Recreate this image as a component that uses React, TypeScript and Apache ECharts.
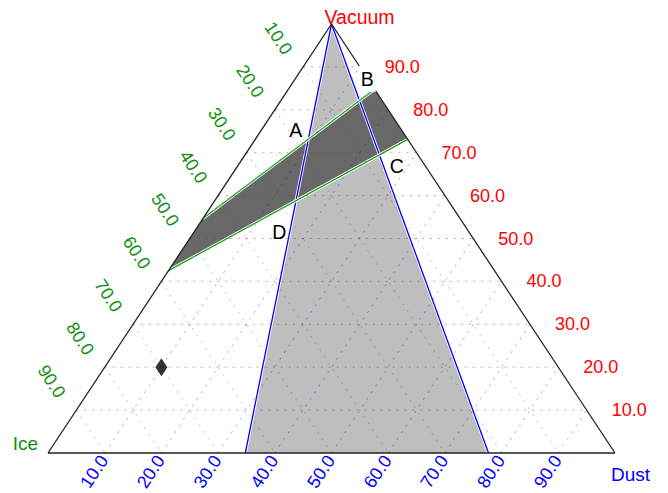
import React, { useEffect, useRef } from "react";
import * as echarts from "echarts";

// Compositions are written as [Ice, Dust, Vacuum] in percent.
const gridTicks = [10, 20, 30, 40, 50, 60, 70, 80, 90];
const tickLabels = gridTicks.map((t) => t.toFixed(1));

const iceTitle = "Ice";
const dustTitle = "Dust";
const vacuumTitle = "Vacuum";

// Dust / (Ice + Dust) in percent for the two rays bounding the light wedge
const dustRatioMin = 34.8;
const dustRatioMax = 77.7;

// Green boundaries of the dark band: Ice–Vacuum side -> Dust–Vacuum side
const bandUpperLine = [
  [45.3, 0, 54.7],
  [0, 15.2, 84.8],
];
const bandLowerLine = [
  [57.5, 0, 42.5],
  [0, 26.9, 73.1],
];

const samplePoint = [70, 10, 20];

const cornerNames = ["A", "B", "C", "D"];
const cornerPositions = [
  [18.7, 6.1, 75.2],
  [0.1, 12.7, 87.2],
  [5.1, 28.1, 66.8],
  [33.4, 15.0, 51.6],
];

const FONT = '"Liberation Sans", Arial, Helvetica, sans-serif';
const RED = "#ff0000";
const GREEN = "#0f8f0f";
const BLUE = "#0000ff";

// ternary -> cartesian (Ice at left, Dust at right, Vacuum on top)
const tern = (c: number[]) => [(c[1] + c[2] / 2) / 100, c[2] / 100];

const APEX = [0, 0, 100];
const ICE_V = [100, 0, 0];
const DUST_V = [0, 100, 0];

type Seg = number[][];

const segmentSeries = (name: string, segs: Seg[], style: any, z: number) => ({
  type: "custom",
  name,
  coordinateSystem: "cartesian2d",
  silent: true,
  z,
  data: segs.map(([a, b]) => [...tern(a), ...tern(b)]),
  encode: { x: [0, 2], y: [1, 3] },
  renderItem: (_p: any, api: any) => {
    const p1 = api.coord([api.value(0), api.value(1)]);
    const p2 = api.coord([api.value(2), api.value(3)]);
    return {
      type: "line",
      shape: { x1: p1[0], y1: p1[1], x2: p2[0], y2: p2[1] },
      style: { fill: null, ...style },
    };
  },
});

const polygonSeries = (name: string, pts: number[][], style: any, z: number) => ({
  type: "custom",
  name,
  coordinateSystem: "cartesian2d",
  silent: true,
  z,
  data: pts.map((p) => tern(p)),
  renderItem: (params: any, api: any) => {
    if (params.dataIndex !== 0) return { type: "group", children: [] };
    const points = pts.map((p) => api.coord(tern(p)));
    return { type: "polygon", shape: { points }, style };
  },
});

type LabelSpec = {
  at: number[];
  text: string;
  dx: number;
  dy: number;
  tilt: "none" | "up" | "down";
  align: string;
  color: string;
  size: number;
  boxed?: boolean;
};

const textSeries = (name: string, specs: LabelSpec[], z: number) => ({
  type: "custom",
  name,
  coordinateSystem: "cartesian2d",
  silent: true,
  z,
  data: specs.map((s) => tern(s.at)),
  renderItem: (params: any, api: any) => {
    const s = specs[params.dataIndex];
    const p = api.coord([api.value(0), api.value(1)]);
    const top = api.coord(tern(APEX));
    const left = api.coord(tern(ICE_V));
    const slope = Math.atan2(left[1] - top[1], top[0] - left[0]);
    const rotation = s.tilt === "up" ? slope : s.tilt === "down" ? -slope : 0;
    const style: any = {
      text: s.text,
      fill: s.color,
      font: `${s.size}px ${FONT}`,
      align: s.align,
      verticalAlign: "middle",
    };
    if (s.boxed) {
      style.backgroundColor = "#ffffff";
      style.padding = [3, 2];
    }
    return { type: "text", x: p[0] + s.dx, y: p[1] + s.dy, rotation, style };
  },
});

function buildOption() {
  const wedge = [APEX, [100 - dustRatioMin, dustRatioMin, 0], [100 - dustRatioMax, dustRatioMax, 0]];
  const band = [bandUpperLine[0], bandUpperLine[1], bandLowerLine[1], bandLowerLine[0]];
  const rays: Seg[] = [
    [APEX, wedge[1]],
    [APEX, wedge[2]],
  ];
  const bandEdges: Seg[] = [bandUpperLine, bandLowerLine];

  const vacGrid: Seg[] = gridTicks.map((v) => [[100 - v, 0, v], [0, 100 - v, v]]);
  const iceGrid: Seg[] = gridTicks.map((i) => [[i, 0, 100 - i], [i, 100 - i, 0]]);
  const dustGrid: Seg[] = gridTicks.map((d) => [[100 - d, d, 0], [0, d, 100 - d]]);

  const edges: Seg[] = [
    [ICE_V, DUST_V],
    [DUST_V, APEX],
    [APEX, ICE_V],
  ];

  const dotted = (color: string) => ({ stroke: color, lineWidth: 1, lineDash: [2, 6] });

  const labels: LabelSpec[] = [];
  gridTicks.forEach((v, k) =>
    labels.push({ at: [0, 100 - v, v], text: tickLabels[k], dx: 25, dy: 0, tilt: "none", align: "left", color: RED, size: 18 })
  );
  gridTicks.forEach((i, k) =>
    labels.push({ at: [i, 0, 100 - i], text: tickLabels[k], dx: -15, dy: -14, tilt: "down", align: "right", color: GREEN, size: 18 })
  );
  gridTicks.forEach((d, k) =>
    labels.push({ at: [100 - d, d, 0], text: tickLabels[k], dx: -0.8, dy: 4, tilt: "up", align: "right", color: BLUE, size: 18 })
  );
  labels.push({ at: APEX, text: vacuumTitle, dx: -7, dy: -7, tilt: "none", align: "left", color: RED, size: 19.5 });
  labels.push({ at: ICE_V, text: iceTitle, dx: -10, dy: -10, tilt: "none", align: "right", color: GREEN, size: 19 });
  labels.push({ at: DUST_V, text: dustTitle, dx: -4, dy: 21, tilt: "none", align: "left", color: BLUE, size: 19 });

  const corners: LabelSpec[] = cornerNames.map((n, k) => ({
    at: cornerPositions[k],
    text: n,
    dx: 0,
    dy: 0,
    tilt: "none",
    align: "center",
    color: "#000000",
    size: 19.5,
    boxed: n === "B",
  }));

  return {
    animation: false,
    backgroundColor: "#ffffff",
    grid: { left: 48, right: 53, top: 24, bottom: 40 },
    xAxis: { type: "value", min: 0, max: 1, show: false },
    yAxis: { type: "value", min: 0, max: 1, show: false },
    series: [
      polygonSeries("wedge", wedge, { fill: "#bebebe" }, 1),
      polygonSeries("band", band, { fill: "#686868" }, 2),
      segmentSeries("rayHalo", rays, { stroke: "#ffffff", lineWidth: 3 }, 3),
      segmentSeries("rays", rays, { stroke: BLUE, lineWidth: 1.3 }, 4),
      segmentSeries("bandHalo", bandEdges, { stroke: "#ffffff", lineWidth: 3 }, 5),
      segmentSeries("bandEdges", bandEdges, { stroke: "#22a022", lineWidth: 1.3 }, 6),
      segmentSeries("vacuumGrid", vacGrid, dotted("rgba(255,0,0,0.45)"), 7),
      segmentSeries("iceGrid", iceGrid, dotted("rgba(0,150,0,0.4)"), 7),
      segmentSeries("dustGrid", dustGrid, dotted("rgba(0,0,255,0.4)"), 7),
      segmentSeries("frame", edges, { stroke: "#222222", lineWidth: 1.3 }, 8),
      {
        type: "scatter",
        name: "sample",
        z: 9,
        silent: true,
        symbol: "diamond",
        symbolSize: [12, 18],
        itemStyle: { color: "#000000" },
        data: [tern(samplePoint)],
      },
      textSeries("axisText", labels, 10),
      textSeries("cornerText", corners, 11),
    ],
  };
}

export default function App() {
  const ref = useRef<HTMLDivElement>(null);
  useEffect(() => {
    if (!ref.current) return;
    const chart = echarts.init(ref.current, undefined, { renderer: "svg" });
    chart.setOption(buildOption() as any);
    return () => chart.dispose();
  }, []);
  return (
    <div
      ref={ref}
      style={{ position: "fixed", left: 0, top: 0, width: 668, height: 493, background: "#fff" }}
    />
  );
}
